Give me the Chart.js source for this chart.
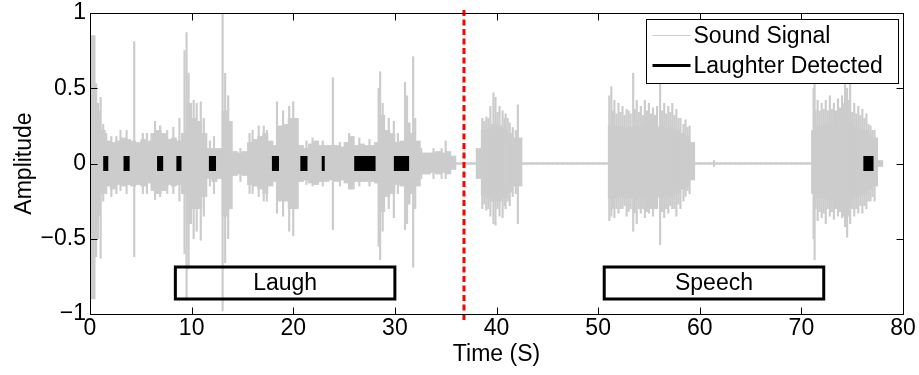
<!DOCTYPE html>
<html><head><meta charset="utf-8">
<script src="https://cdn.jsdelivr.net/npm/chart.js@4.4.1/dist/chart.umd.min.js"></script>
<style>html,body{margin:0;padding:0;background:#fff;}canvas{display:block;}</style>
</head><body>
<canvas id="c" width="919" height="375"></canvas>
<script>
// ---- data ----
const xTickValues = [0, 10, 20, 30, 40, 50, 60, 70, 80];
const yTickValues = [-1, -0.5, 0, 0.5, 1];
const seriesNames = ['Sound Signal', 'Laughter Detected'];
const xTitle = 'Time (S)';
const yTitle = 'Amplitude';

// dense waveform envelope, one bin per 0.5 s starting at 0 s
const binStep = 0.5;
const coreLo = [
 -0.90,-0.35,-0.20,-0.15,-0.17,-0.14,-0.15,-0.14,-0.15,-0.14,
 -0.15,-0.13,-0.18,-0.20,-0.18,-0.14,-0.15,-0.14,-0.20,-0.40,
 -0.30,-0.30,-0.22,-0.10,-0.12,-0.10,-0.35,-0.30,-0.08,-0.07,
 -0.08,-0.14,-0.15,-0.17,-0.20,-0.15,-0.12,-0.25,-0.25,-0.30,
 -0.30,-0.12,-0.11,-0.13,-0.14,-0.12,-0.12,-0.11,-0.12,-0.11,
 -0.13,-0.17,-0.12,-0.12,-0.12,-0.12,-0.13,-0.32,-0.22,-0.20,
 -0.14,-0.15,-0.27,-0.20,-0.15,-0.07,-0.07,-0.06,-0.07,-0.06,
 -0.07,-0.04,-0.006,-0.006,-0.006,-0.006,-0.10,-0.21,-0.23,-0.25,
 -0.25,-0.23,-0.19,-0.15,-0.15,-0.006,-0.006,-0.006,-0.006,-0.006,
 -0.006,-0.006,-0.006,-0.006,-0.006,-0.006,-0.006,-0.006,-0.006,-0.006,
 -0.006,-0.006,-0.23,-0.23,-0.22,-0.23,-0.23,-0.24,-0.22,-0.23,
 -0.22,-0.22,-0.23,-0.21,-0.22,-0.20,-0.17,-0.15,-0.11,-0.006,
 -0.006,-0.006,-0.006,-0.006,-0.006,-0.006,-0.006,-0.006,-0.006,-0.006,
 -0.006,-0.006,-0.006,-0.006,-0.006,-0.006,-0.006,-0.006,-0.006,-0.006,
 -0.006,-0.006,-0.20,-0.23,-0.23,-0.24,-0.24,-0.23,-0.25,-0.25,
 -0.22,-0.21,-0.20,-0.17,-0.15,-0.02
];
const coreHi = [
 0.85,0.35,0.22,0.15,0.14,0.15,0.17,0.16,0.15,0.14,
 0.16,0.15,0.20,0.22,0.20,0.16,0.17,0.15,0.20,0.40,
 0.30,0.28,0.20,0.10,0.10,0.10,0.35,0.28,0.08,0.07,
 0.08,0.14,0.16,0.18,0.20,0.15,0.12,0.25,0.26,0.30,
 0.30,0.12,0.10,0.13,0.15,0.12,0.12,0.12,0.12,0.11,
 0.14,0.18,0.12,0.13,0.12,0.12,0.14,0.32,0.22,0.20,
 0.14,0.15,0.27,0.20,0.15,0.07,0.07,0.07,0.08,0.07,
 0.08,0.05,0.006,0.006,0.006,0.006,0.10,0.22,0.23,0.26,
 0.25,0.23,0.20,0.17,0.17,0.006,0.006,0.006,0.006,0.006,
 0.006,0.006,0.006,0.006,0.006,0.006,0.006,0.006,0.006,0.006,
 0.006,0.006,0.25,0.25,0.24,0.23,0.24,0.25,0.24,0.25,
 0.23,0.24,0.25,0.23,0.24,0.22,0.20,0.18,0.14,0.006,
 0.006,0.006,0.006,0.006,0.006,0.006,0.006,0.006,0.006,0.006,
 0.006,0.006,0.006,0.006,0.006,0.006,0.006,0.006,0.006,0.006,
 0.006,0.006,0.22,0.25,0.25,0.26,0.26,0.25,0.27,0.27,
 0.24,0.23,0.22,0.19,0.17,0.02
];

// individual thin peaks of the waveform
const spikeT  = [0.6,0.8,1.05,1.3,1.6,2.1,2.6,3.0,3.6,4.35,5.2,5.6,6.4,6.9,7.6,8.2,8.8,9.3,9.5,9.7,
 10.2,10.5,10.9,11.2,11.8,12.2,13.05,13.3,13.6,14.8,15.7,16.0,16.6,17.1,17.4,18.4,19.0,19.6,20.0,20.3,
 21.3,21.9,22.9,23.9,24.6,25.5,26.5,27.5,28.4,28.55,28.8,29.4,29.9,30.3,31.0,31.2,31.8,32.0,32.6,33.8,
 34.6,35.0,38.6,39.0,39.4,39.7,39.9,40.3,40.6,40.9,41.3,42.1,
 51.1,51.3,51.6,52.0,52.4,52.8,53.45,53.8,54.2,54.6,55.0,55.4,55.8,56.1,56.5,56.9,57.3,57.7,58.1,58.6,59.0,
 61.4,71.2,71.3,71.6,72.0,72.4,72.8,73.2,73.6,74.0,74.3,74.5,74.8,75.2,75.6,76.0,76.4,76.8,77.2,
 38.8,39.2,40.1,40.8,41.1,41.6,41.9,
 51.45,51.8,52.2,52.6,53.0,53.2,53.6,54.0,54.4,54.8,55.2,55.6,56.3,56.7,57.1,57.5,57.9,58.4,58.8,
 71.4,71.8,72.2,72.6,73.0,73.4,73.8,74.15,74.65,75.0,75.4,75.8,76.2,76.6,77.0];
const spikeLo = [-0.62,-0.5,-0.63,-0.25,-0.2,-0.22,-0.2,-0.18,-0.2,-0.62,-0.2,-0.2,-0.24,-0.22,-0.2,-0.2,-0.25,-0.6,-0.91,-0.7,
 -0.5,-0.45,-0.51,-0.35,-0.15,-0.2,-0.98,-0.66,-0.5,-0.12,-0.2,-0.2,-0.22,-0.25,-0.25,-0.33,-0.35,-0.45,-0.48,-0.3,
 -0.14,-0.15,-0.15,-0.44,-0.15,-0.17,-0.15,-0.15,-0.55,-0.64,-0.45,-0.3,-0.36,-0.2,-0.44,-0.4,-0.69,-0.3,-0.1,-0.1,
 -0.1,-0.1,-0.3,-0.31,-0.35,-0.4,-0.41,-0.35,-0.36,-0.3,-0.28,-0.4,
 -0.38,-0.35,-0.36,-0.33,-0.3,-0.35,-0.45,-0.4,-0.33,-0.36,-0.33,-0.35,-0.3,-0.54,-0.36,-0.33,-0.3,-0.35,-0.3,-0.22,-0.2,
 -0.02,-0.5,-0.64,-0.38,-0.36,-0.4,-0.35,-0.37,-0.35,-0.36,-0.42,-0.49,-0.4,-0.35,-0.33,-0.33,-0.3,-0.25,-0.25,
 -0.27,-0.3,-0.3,-0.28,-0.25,-0.22,-0.2,
 -0.3,-0.3,-0.3,-0.28,-0.32,-0.3,-0.33,-0.3,-0.3,-0.32,-0.3,-0.3,-0.32,-0.3,-0.28,-0.3,-0.27,-0.25,-0.18,
 -0.3,-0.32,-0.33,-0.3,-0.32,-0.3,-0.32,-0.35,-0.35,-0.3,-0.3,-0.28,-0.28,-0.25,-0.22];
const spikeHi = [0.53,0.4,0.44,0.26,0.2,0.18,0.18,0.22,0.22,0.81,0.2,0.2,0.28,0.25,0.22,0.24,0.3,0.75,0.87,0.6,
 0.42,0.4,0.41,0.3,0.15,0.18,1.0,0.6,0.45,0.1,0.2,0.22,0.25,0.25,0.22,0.41,0.35,0.38,0.41,0.3,
 0.15,0.17,0.15,0.57,0.14,0.2,0.17,0.16,0.5,0.61,0.4,0.3,0.28,0.2,0.54,0.45,0.71,0.3,0.1,0.1,
 0.1,0.15,0.3,0.31,0.38,0.47,0.44,0.38,0.35,0.33,0.27,0.39,
 0.45,0.51,0.42,0.4,0.38,0.36,0.6,0.42,0.38,0.42,0.4,0.37,0.38,0.55,0.4,0.38,0.4,0.36,0.3,0.29,0.25,
 0.02,0.5,0.58,0.42,0.4,0.42,0.45,0.4,0.43,0.45,0.6,0.5,0.6,0.4,0.38,0.36,0.33,0.25,0.22,
 0.28,0.3,0.34,0.3,0.3,0.24,0.22,
 0.35,0.33,0.34,0.32,0.35,0.33,0.36,0.34,0.32,0.35,0.33,0.32,0.35,0.33,0.34,0.32,0.3,0.26,0.24,
 0.35,0.35,0.36,0.35,0.36,0.35,0.37,0.4,0.42,0.34,0.33,0.32,0.3,0.26,0.22];

// laughter detection intervals (s)
const laughStart = [1.3, 3.3, 6.6, 8.5, 11.7, 17.9, 20.7, 22.8, 26.0, 29.9, 76.1];
const laughEnd   = [1.8, 3.9, 7.2, 9.0, 12.4, 18.6, 21.4, 23.1, 28.1, 31.4, 77.1];

// annotations
const boundaryT = 36.8;
const regionLabels = ['Laugh', 'Speech'];
const regionStart = [8.4, 50.6];
const regionEnd = [30.0, 72.2];
const regionTop = -0.687, regionBottom = -0.9;

// ---- build chart ----
const FONT = '"Liberation Sans", Arial, Helvetica, sans-serif';
Chart.defaults.font.family = FONT;
Chart.defaults.font.size = 23;
Chart.defaults.color = '#000';

const coreData = coreLo.map((lo, i) => ({ x: i * binStep + binStep / 2, y: [lo, coreHi[i]] }));
const spikeData = spikeT.map((t, i) => ({ x: t, y: [spikeLo[i], spikeHi[i]] }));
const laughData = [];
laughStart.forEach((s, i) => { laughData.push({ x: s, y: 0 }, { x: laughEnd[i], y: 0 }, { x: laughEnd[i], y: null }); });
const boxData = [];
regionStart.forEach((s, i) => {
  const e = regionEnd[i];
  boxData.push({x:s,y:regionTop},{x:e,y:regionTop},{x:e,y:regionBottom},{x:s,y:regionBottom},{x:s,y:regionTop},{x:e,y:regionTop},{x:e,y:null});
});

const GRAY = '#cccccc';

const overlay = {
  id: 'overlay',
  afterDraw(chart) {
    const { ctx, chartArea: a, scales: { x, y } } = chart;
    ctx.save();
    ctx.strokeStyle = '#000'; ctx.lineWidth = 1;
    const L = Math.round(a.left) + 0.5, T = Math.round(a.top) + 0.5, R = Math.round(a.right) + 0.5, B = Math.round(a.bottom) + 0.5;
    ctx.strokeRect(L, T, R - L, B - T);
    ctx.beginPath();
    xTickValues.forEach(v => {
      const px = Math.round(x.getPixelForValue(v)) + 0.5;
      ctx.moveTo(px, B); ctx.lineTo(px, B - 7);
      ctx.moveTo(px, T); ctx.lineTo(px, T + 7);
    });
    yTickValues.forEach(v => {
      const py = Math.round(y.getPixelForValue(v)) + 0.5;
      ctx.moveTo(L, py); ctx.lineTo(L + 7, py);
      ctx.moveTo(R, py); ctx.lineTo(R - 7, py);
    });
    ctx.stroke();

    ctx.font = '23px ' + FONT; ctx.fillStyle = '#000';
    ctx.textAlign = 'center'; ctx.textBaseline = 'middle';
    regionLabels.forEach((t, i) => {
      const cx = x.getPixelForValue((regionStart[i] + regionEnd[i]) / 2);
      const cy = y.getPixelForValue((regionTop + regionBottom) / 2);
      ctx.fillText(t, cx, cy + 1);
    });

    // legend
    const lx = Math.round(a.right) - 257 + 0.5, ly = Math.round(a.top) + 6 + 0.5, lw = 252, lh = 64;
    ctx.fillStyle = '#fff'; ctx.fillRect(lx, ly, lw, lh);
    ctx.strokeStyle = '#000'; ctx.lineWidth = 1; ctx.strokeRect(lx, ly, lw, lh);
    ctx.beginPath(); ctx.strokeStyle = GRAY; ctx.lineWidth = 1;
    ctx.moveTo(lx + 6, ly + 16); ctx.lineTo(lx + 44, ly + 16); ctx.stroke();
    ctx.beginPath(); ctx.strokeStyle = '#000'; ctx.lineWidth = 3;
    ctx.moveTo(lx + 6, ly + 46); ctx.lineTo(lx + 44, ly + 46); ctx.stroke();
    ctx.fillStyle = '#000'; ctx.textAlign = 'left'; ctx.textBaseline = 'middle';
    ctx.fillText(seriesNames[0], lx + 47, ly + 17);
    ctx.fillText(seriesNames[1], lx + 47, ly + 47);
    ctx.restore();
  }
};

new Chart(document.getElementById('c'), {
  type: 'bar',
  data: {
    datasets: [
      { type: 'line', label: 'boundary', data: [{x: boundaryT, y: 1.02}, {x: boundaryT, y: -1.05}],
        borderColor: '#ff0000', borderWidth: 3, borderDash: [6, 3.5], pointRadius: 0, clip: false, order: 1 },
      { type: 'line', label: 'regions', data: boxData, borderColor: '#000', borderWidth: 3,
        pointRadius: 0, spanGaps: false, borderJoinStyle: 'miter', order: 2 },
      { type: 'line', label: seriesNames[1], data: laughData, borderColor: '#000', borderWidth: 15,
        borderCapStyle: 'butt', pointRadius: 0, spanGaps: false, order: 3 },
      { label: seriesNames[0] + ' peaks', data: spikeData, backgroundColor: GRAY, borderWidth: 0,
        barThickness: 1.5, grouped: false, order: 9 },
      { label: seriesNames[0], data: coreData, backgroundColor: GRAY, borderWidth: 0,
        barThickness: 5.3, grouped: false, order: 10 }
    ]
  },
  options: {
    responsive: false, animation: false, devicePixelRatio: 1, events: [],
    layout: { padding: { top: 13, right: 16, left: 0, bottom: 0 } },
    plugins: { legend: { display: false }, tooltip: { enabled: false } },
    scales: {
      x: {
        type: 'linear', min: 0, max: 80, offset: false,
        grid: { display: false, drawTicks: false }, border: { display: false },
        afterBuildTicks: s => { s.ticks = xTickValues.map(v => ({ value: v })); },
        ticks: { padding: 1, maxRotation: 0, autoSkip: false },
        title: { display: true, text: xTitle, padding: { top: 0, bottom: 7 } },
        afterFit: s => { s.height = 61; s.paddingLeft = 0; s.paddingRight = 0; }
      },
      y: {
        min: -1, max: 1,
        grid: { display: false, drawTicks: false }, border: { display: false },
        afterBuildTicks: s => { s.ticks = yTickValues.map(v => ({ value: v })); },
        ticks: { padding: 4, autoSkip: false, callback: v => v < 0 ? '\u2212' + Math.abs(v) : String(v) },
        title: { display: true, text: yTitle, padding: { top: 11, bottom: 0 } },
        afterFit: s => { s.width = 90; s.paddingTop = 0; s.paddingBottom = 0; }
      }
    }
  },
  plugins: [overlay]
});
</script>
</body></html>
